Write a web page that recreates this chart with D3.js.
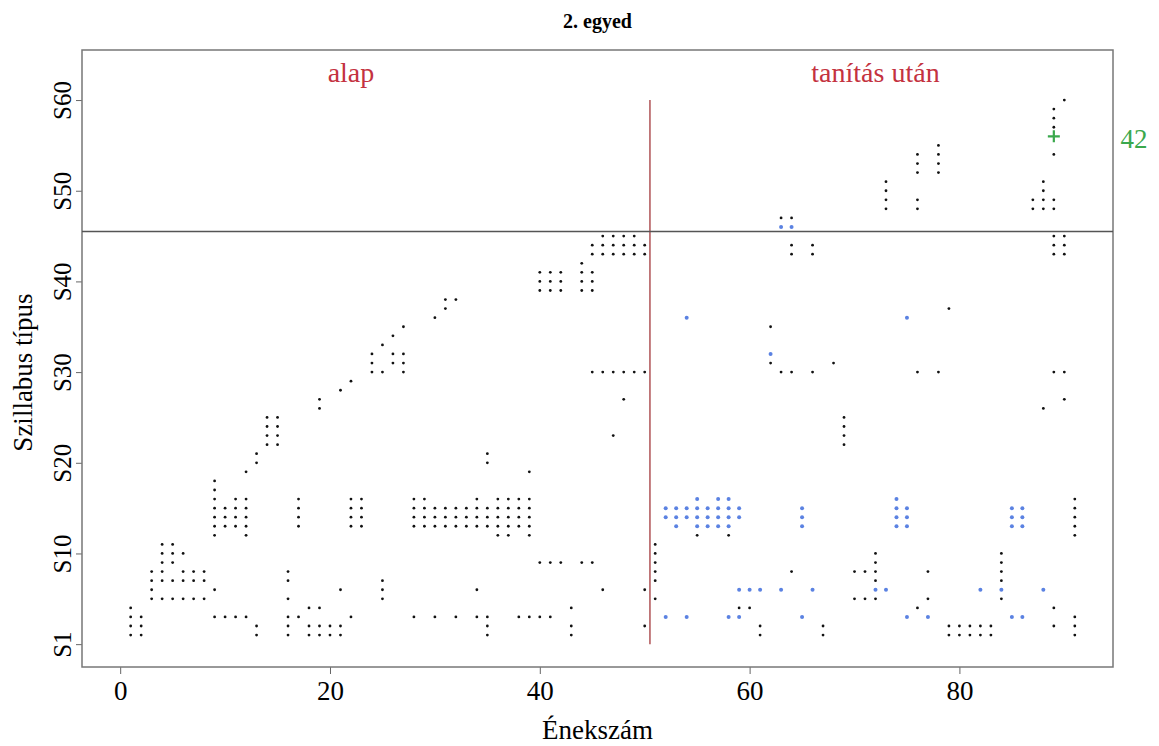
<!DOCTYPE html>
<html>
<head>
<meta charset="utf-8">
<script src="https://cdn.jsdelivr.net/npm/d3@7"></script>
<style>
  body { margin: 0; background: #fff; }
  svg { display: block; font-family: "Liberation Serif", "DejaVu Serif", serif; }
</style>
</head>
<body>
<svg id="chart" width="1159" height="746"></svg>
<script>
// song number -> syllable types (black dots)
var blackCols = [
	[1, [1,2,3,4]], [2, [1,2,3]], [3, [5,6,7,8]], [4, [5,7,8,9,10,11]],
	[5, [5,7,9,10,11]], [6, [5,7,8,10]], [7, [5,7,8]], [8, [5,7,8]],
	[9, [3,6,12,13,14,15,16,17,18]], [10, [3,13,14,15]], [11, [3,13,14,15,16]],
	[12, [3,12,13,14,15,16,19]], [13, [1,2,20,21]], [14, [22,23,24,25]],
	[15, [22,23,24,25]], [16, [1,2,3,5,7,8]], [17, [3,13,14,15,16]],
	[18, [1,2,4]], [19, [1,2,4,26,27]], [20, [1,2]], [21, [1,2,6,28]],
	[22, [3,13,14,15,16,29]], [23, [13,14,15,16]], [24, [30,31,32]],
	[25, [5,6,7,30,33]], [26, [31,32,34]], [27, [30,31,32,35]],
	[28, [3,13,14,15,16]], [29, [13,14,15,16]], [30, [3,13,14,15,36]],
	[31, [13,14,15,37,38]], [32, [3,13,14,15,38]], [33, [13,14,15]],
	[34, [3,6,13,14,15,16]], [35, [1,2,3,13,14,15,20,21]],
	[36, [12,13,14,15,16]], [37, [12,13,14,15,16]], [38, [3,13,14,15,16]],
	[39, [3,12,13,14,15,16,19]], [40, [3,9,39,40,41]], [41, [3,9,39,40,41]],
	[42, [9,39,40,41]], [43, [1,2,4]], [44, [9,39,40,41,42]],
	[45, [9,30,39,40,41,43,44]], [46, [6,30,43,44,45]], [47, [23,30,43,44,45]],
	[48, [27,30,43,44,45]], [49, [30,43,44,45]], [50, [2,6,30,43,44]],
	[51, [5,7,8,9,10,11]], [55, [12]], [58, [12]], [59, [4]], [60, [4]],
	[61, [1,2]], [62, [31,35]], [63, [30,47]], [64, [8,30,43,44,47]],
	[66, [30,43,44]], [67, [1,2]], [68, [31]], [69, [22,23,24,25]],
	[70, [5,8]], [71, [5,8]], [72, [5,7,8,9,10]], [73, [48,49,50,51]],
	[76, [4,30,48,49,52,53,54]], [77, [5,8]], [78, [30,52,53,54,55]],
	[79, [1,2,37]], [80, [1,2]], [81, [1,2]], [82, [1,2]], [83, [1,2]],
	[84, [5,7,8,9,10]], [87, [48,49]], [88, [26,48,49,50,51]],
	[89, [2,4,30,43,44,45,48,49,54,57,58,59]], [90, [27,30,43,44,45,60]],
	[91, [1,2,3,12,13,14,15,16]]
];

// blue dots
var blueCols = [
	[52, [3,14,15]], [53, [13,14,15]], [54, [3,14,15,36]], [55, [13,14,15,16]],
	[56, [13,14,15]], [57, [13,14,15,16]], [58, [3,13,14,15,16]],
	[59, [3,6,14,15]], [60, [6]], [61, [6]], [62, [32]], [63, [6,46]],
	[64, [46]], [65, [3,13,14,15]], [66, [6]], [72, [6]], [73, [6]],
	[74, [13,14,15,16]], [75, [3,13,14,15,36]], [77, [3]], [82, [6]],
	[84, [6]], [85, [3,13,14,15]], [86, [3,13,14,15]], [88, [6]]
];

var plusPoint = [89, 56];
var plusLabel = "42";

var xTicks = [0, 20, 40, 60, 80];
var yTicks = [0, 10, 20, 30, 40, 50, 60];
var yTickLabels = ["S1", "S10", "S20", "S30", "S40", "S50", "S60"];

var splitSong = 50.5;
var splitType = 45.5;
var sectionLabels = [[22, "alap"], [72, "tanítás után"]];

function flatten(cols) {
	var out = [];
	cols.forEach(function(c) {
		c[1].forEach(function(t) { out.push([c[0], t]); });
	});
	return out;
}

var plotL = 82, plotR = 1113, plotT = 50, plotB = 667;

var x = d3.scaleLinear().domain([-3.64, 94.64]).range([plotL, plotR]);
var y = d3.scaleLinear().domain([-2.52, 65.52]).range([plotB, plotT]);

var svg = d3.select("#chart");

svg.append("text")
	.attr("x", (plotL + plotR) / 2)
	.attr("y", 28)
	.attr("text-anchor", "middle")
	.attr("font-weight", "bold")
	.attr("font-size", 20)
	.text("2. egyed");

// axes
var xAxis = svg.append("g")
	.attr("transform", "translate(0," + plotB + ")")
	.call(d3.axisBottom(x).tickValues(xTicks).tickSize(7).tickPadding(7));
xAxis.select(".domain").remove();
xAxis.selectAll("line").attr("stroke", "#666");
xAxis.selectAll("text")
	.attr("font-family", "Liberation Serif")
	.attr("font-size", 27)
	.attr("fill", "#000");

var yAxis = svg.append("g")
	.attr("transform", "translate(" + plotL + ",0)")
	.call(d3.axisLeft(y).tickValues(yTicks).tickSize(6)
		.tickFormat(function(d, i) { return yTickLabels[i]; }));
yAxis.select(".domain").remove();
yAxis.selectAll("line").attr("stroke", "#666");
yAxis.selectAll("text")
	.attr("font-family", "Liberation Serif")
	.attr("font-size", 25)
	.attr("fill", "#000")
	.attr("x", 0)
	.attr("dy", 0)
	.attr("text-anchor", "middle")
	.attr("transform", "translate(-11,0) rotate(-90)");

// box
svg.append("rect")
	.attr("x", plotL).attr("y", plotT)
	.attr("width", plotR - plotL).attr("height", plotB - plotT)
	.attr("fill", "none")
	.attr("stroke", "#777")
	.attr("stroke-width", 1.5);

svg.append("text")
	.attr("x", (plotL + plotR) / 2)
	.attr("y", 739)
	.attr("text-anchor", "middle")
	.attr("font-size", 27)
	.text("Énekszám");

svg.append("text")
	.attr("transform", "translate(32," + ((plotT + plotB) / 2 + 14) + ") rotate(-90)")
	.attr("text-anchor", "middle")
	.attr("font-size", 27)
	.text("Szillabus típus");

// section lines
svg.append("line")
	.attr("x1", x(splitSong)).attr("x2", x(splitSong))
	.attr("y1", y(0)).attr("y2", y(60))
	.attr("stroke", "#a3383b")
	.attr("stroke-width", 1.3);

svg.append("line")
	.attr("x1", plotL).attr("x2", plotR)
	.attr("y1", y(splitType)).attr("y2", y(splitType))
	.attr("stroke", "#555")
	.attr("stroke-width", 1.4);

svg.selectAll("text.section")
	.data(sectionLabels)
	.enter().append("text")
	.attr("class", "section")
	.attr("x", function(d) { return x(d[0]); })
	.attr("y", 82)
	.attr("text-anchor", "middle")
	.attr("font-size", 28)
	.attr("fill", "#c43240")
	.text(function(d) { return d[1]; });

// dots
svg.append("g").selectAll("circle")
	.data(flatten(blackCols))
	.enter().append("circle")
	.attr("cx", function(d) { return x(d[0]); })
	.attr("cy", function(d) { return y(d[1]); })
	.attr("r", 1.4)
	.attr("fill", "#111");

svg.append("g").selectAll("circle")
	.data(flatten(blueCols))
	.enter().append("circle")
	.attr("cx", function(d) { return x(d[0]); })
	.attr("cy", function(d) { return y(d[1]); })
	.attr("r", 2)
	.attr("fill", "#5b82e2");

// marker
var px = x(plusPoint[0]), py = y(plusPoint[1]);
svg.append("path")
	.attr("d", "M" + (px - 6) + "," + py + "H" + (px + 6) + "M" + px + "," + (py - 6) + "V" + (py + 6))
	.attr("stroke", "#3aa84c")
	.attr("stroke-width", 2.2);

svg.append("text")
	.attr("x", 1134)
	.attr("y", py + 12)
	.attr("text-anchor", "middle")
	.attr("font-size", 27)
	.attr("fill", "#3aa84c")
	.text(plusLabel);
</script>
</body>
</html>
